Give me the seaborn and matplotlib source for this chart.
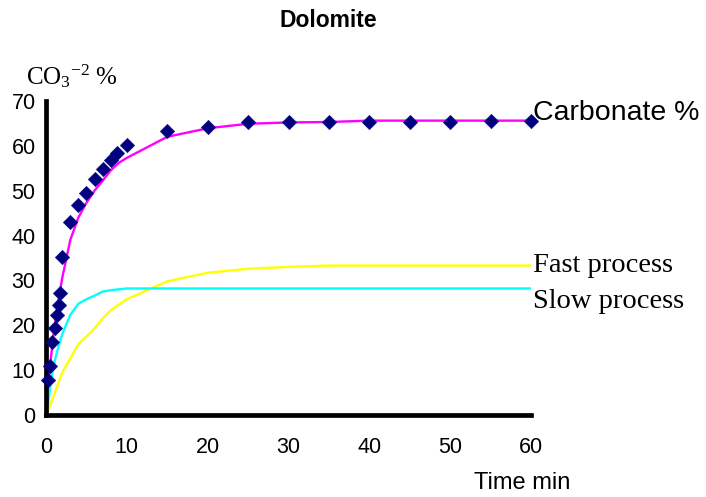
import matplotlib
matplotlib.use("Agg")
import matplotlib.pyplot as plt
import seaborn as sns
import pandas as pd

# ---- data ----
t_obs = [0.25, 0.5, 0.75, 1.05, 1.35, 1.55, 1.75, 2.0, 3, 4, 5, 6, 7, 8, 8.8, 10,
         15, 20, 25, 30, 35, 40, 45, 50, 55, 60]
carb_obs = [7.8, 10.9, 16.3, 19.4, 22.2, 24.6, 27.1, 35.2, 43.1, 46.7, 49.4, 52.5,
            54.9, 56.8, 58.4, 60.1, 63.2, 64.1, 65.2, 65.3, 65.3, 65.3, 65.3, 65.3,
            65.5, 65.6]

t_fit = [0, 0.25, 0.5, 0.75, 1, 1.5, 2, 3, 4, 5, 6, 7, 8, 9, 10, 15, 20, 25, 30,
         35, 40, 45, 50, 55, 60]
carb_fit = [4.0, 7.0, 11.0, 15.0, 19.0, 25.0, 30.5, 39.0, 44.0, 47.3, 50.0, 52.2,
            54.5, 56.2, 57.3, 62.0, 63.9, 64.9, 65.2, 65.3, 65.6, 65.6, 65.6, 65.6,
            65.6]
fast = [0.0, 1.0, 2.2, 3.3, 4.5, 7.0, 9.5, 12.6, 15.8, 17.5, 19.3, 21.5, 23.3, 24.6,
        25.8, 29.8, 31.7, 32.6, 33.0, 33.3, 33.3, 33.3, 33.3, 33.3, 33.3]
slow = [0.5, 2.5, 6.0, 9.0, 11.5, 15.0, 18.0, 22.3, 24.8, 25.8, 26.6, 27.5, 27.8,
        28.0, 28.2, 28.2, 28.2, 28.2, 28.2, 28.2, 28.2, 28.2, 28.2, 28.2, 28.2]

x_ticks = [0, 10, 20, 30, 40, 50, 60]
y_ticks = [0, 10, 20, 30, 40, 50, 60, 70]

obs = pd.DataFrame({"t": t_obs, "c": carb_obs})
fit = pd.DataFrame({"t": t_fit, "carb": carb_fit, "fast": fast, "slow": slow})

sns.set_style("white")
plt.rcParams["font.family"] = ["Liberation Sans", "DejaVu Sans"]
plt.rcParams["text.color"] = "black"
plt.rcParams["mathtext.fontset"] = "custom"
plt.rcParams["mathtext.rm"] = "Liberation Serif"
plt.rcParams["mathtext.it"] = "Liberation Serif:italic"

fig = plt.figure(figsize=(7.06, 4.97), dpi=100)
ax = fig.add_axes([0.0652, 0.165, 0.687, 0.632])

sns.lineplot(data=fit, x="t", y="fast", ax=ax, color="#FFFF00", lw=1.7,
             estimator=None, sort=False)
sns.lineplot(data=fit, x="t", y="slow", ax=ax, color="#00FFFF", lw=1.7,
             estimator=None, sort=False)
sns.lineplot(data=fit, x="t", y="carb", ax=ax, color="#FF00FF", lw=1.7,
             estimator=None, sort=False)
sns.scatterplot(data=obs, x="t", y="c", ax=ax, marker="D", s=55, color="#000080",
                edgecolor="#000080", linewidth=0.3, clip_on=False, zorder=5)

ax.set_xlim(0, 60)
ax.set_ylim(0, 70)
ax.set_xticks(x_ticks)
ax.set_yticks(y_ticks)
ax.set_xlabel("")
ax.set_ylabel("")
for side in ["top", "right"]:
    ax.spines[side].set_visible(False)
for side in ["left", "bottom"]:
    ax.spines[side].set_linewidth(3.4)
    ax.spines[side].set_color("black")
ax.tick_params(axis="both", which="major", direction="out", length=2.5, width=2.5,
               color="black", labelsize=15.5, labelcolor="black")
ax.tick_params(axis="x", pad=13)
ax.tick_params(axis="y", pad=5)

# labels
fig.text(0.465, 0.958, "Dolomite", ha="center", va="center", fontsize=16.5,
         fontweight="bold", color="black")
fig.text(0.037, 0.831, r"$\mathrm{CO_3}$$^{\mathrm{-2}}$ %", ha="left",
         va="baseline", fontsize=18, color="black",
         family=["Liberation Serif", "DejaVu Serif"])
fig.text(0.672, 0.028, "Time min", ha="left", va="center", fontsize=17,
         color="black")

ax.text(60.3, 67.4, "Carbonate %", ha="left", va="center", fontsize=20.5,
        color="black", clip_on=False)
ax.text(60.3, 33.3, "Fast process", ha="left", va="center", fontsize=20.5,
        color="black", family=["Liberation Serif", "DejaVu Serif"], clip_on=False)
ax.text(60.3, 25.2, "Slow process", ha="left", va="center", fontsize=20.5,
        color="black", family=["Liberation Serif", "DejaVu Serif"], clip_on=False)

fig.savefig("out.png", dpi=100)
